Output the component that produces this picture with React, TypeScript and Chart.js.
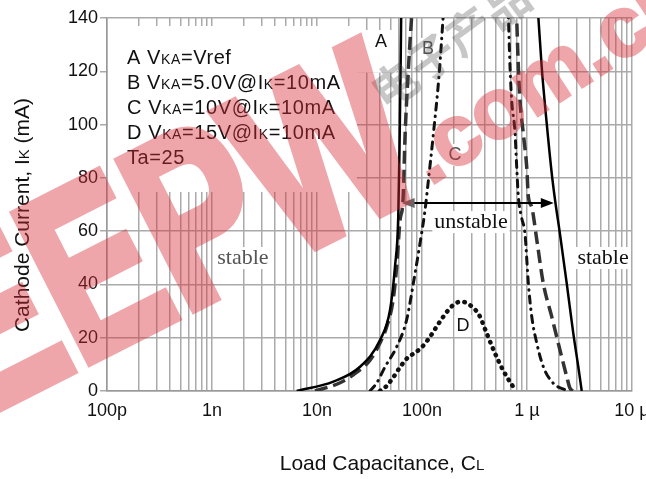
import { useEffect, useRef } from 'react';
import { Chart, registerables } from 'chart.js';

Chart.register(...registerables);

const SANS = '"Liberation Sans", Arial, sans-serif';
const SERIF = '"Liberation Serif", "Times New Roman", serif';
const CJK = '"Noto Sans CJK SC", sans-serif';

// ---- axes ----
const xMin = 1e-10;
const xMax = 1e-5;
const decadeValues = [1e-10, 1e-9, 1e-8, 1e-7, 1e-6, 1e-5];
const decadeLabels = ['100p', '1n', '10n', '100n', '1 µ', '10 µ'];
const minorMultipliers = [1, 2, 3, 4, 5, 6, 7, 8, 9];
const yMin = 0;
const yMax = 140;
const yStep = 20;

// ---- curve A (solid) ----
const aLeftCap = [6.4e-9, 1.43e-8, 2.57e-8, 3.98e-8, 4.96e-8, 5.53e-8, 5.94e-8, 6.1e-8, 6.25e-8, 6.35e-8];
const aLeftCur = [0, 3.5, 9.1, 19.1, 30.4, 46.7, 65.4, 90, 120, 145];
const aRightCap = [1.26e-6, 1.38e-6, 1.54e-6, 1.72e-6, 1.85e-6, 2.06e-6, 2.39e-6, 2.76e-6, 3.08e-6, 3.32e-6];
const aRightCur = [145, 121.7, 100.5, 81.7, 71.7, 59, 40.4, 21.6, 9.1, 0];

// ---- curve B (dashed) ----
const bLeftCap = [9.57e-9, 1.66e-8, 2.2e-8, 3.2e-8, 3.98e-8, 4.6e-8, 5.3e-8, 5.74e-8, 6.17e-8, 6.6e-8, 6.9e-8, 7.4e-8, 8.1e-8];
const bLeftCur = [0, 3.1, 6, 11.6, 18, 24, 34, 46.7, 64, 72, 96, 120, 145];
const bRightCap = [7.9e-7, 8.27e-7, 8.57e-7, 9.2e-7, 9.94e-7, 1.03e-6, 1.11e-6, 1.24e-6, 1.43e-6, 1.72e-6, 2.06e-6, 2.39e-6, 2.57e-6, 2.76e-6];
const bRightCur = [145, 121.7, 109, 97, 84, 73, 69, 56.7, 40.4, 27.9, 15.4, 5.4, 1, 0];

// ---- curve C (dash-dot) ----
const cLeftCap = [3.2e-8, 3.7e-8, 4.44e-8, 5.74e-8, 7.14e-8, 8.27e-8, 9.57e-8, 1.07e-7, 1.15e-7, 1.28e-7, 1.45e-7, 1.62e-7];
const cLeftCur = [0, 3, 9, 16.6, 26.7, 40.4, 55.4, 68, 79, 96, 118, 145];
const cRightCap = [6.6e-7, 6.89e-7, 7.15e-7, 7.69e-7, 7.98e-7, 8.27e-7, 8.9e-7, 9.57e-7, 1.03e-6, 1.11e-6, 1.24e-6, 1.43e-6, 1.78e-6, 2.2e-6, 2.57e-6];
const cRightCur = [145, 121.7, 109, 97, 84, 73, 65, 59, 40.4, 27.9, 17.9, 9.1, 2.9, 0.8, 0];

// ---- curve D (dotted) ----
const dCap = [3.98e-8, 4.5e-8, 5.3e-8, 6.2e-8, 7.3e-8, 8.7e-8, 1.0e-7, 1.2e-7, 1.45e-7, 1.75e-7, 2.1e-7, 2.4e-7, 2.85e-7, 3.5e-7, 4.1e-7, 4.8e-7, 5.9e-7, 7.7e-7];
const dCur = [0, 1.5, 5, 9, 12.5, 14.5, 16.5, 20.5, 25.5, 30, 33, 33.5, 32.3, 28.5, 22, 15.4, 7.9, 0.4];

// ---- texts ----
const legendLines = [
  'A V_KA_=Vref',
  'B V_KA_=5.0V@I_K_=10mA',
  'C V_KA_=10V@I_K_=10mA',
  'D V_KA_=15V@I_K_=10mA',
  'Ta=25',
];
const curveLabels = ['A', 'B', 'C', 'D'];
const xTitle = 'Load Capacitance, C_L_';
const yTitle = 'Cathode Current, I_K_ (mA)';
const unstableText = 'unstable';
const stableText = 'stable';
const watermarkMain = 'EEPW';
const watermarkSite = '.com.cn';
const watermarkCn = '电子产品世界';
const arrowCap = [6.4e-8, 1.8e-6];
const arrowCur = 70.6;

function pts(xs: number[], ys: number[]) {
  return xs.map((x, i) => ({ x, y: ys[i] }));
}

function drawRich(ctx: CanvasRenderingContext2D, str: string, x: number, y: number, size: number, align: string) {
  const parts = str.split('_');
  const fonts = parts.map((_, i) => `${i % 2 ? Math.round(size * 0.72) : size}px ${SANS}`);
  const widths = parts.map((p, i) => {
    ctx.font = fonts[i];
    return ctx.measureText(p).width;
  });
  const total = widths.reduce((a, b) => a + b, 0);
  let cx = align === 'center' ? x - total / 2 : x;
  ctx.textAlign = 'left';
  ctx.textBaseline = 'alphabetic';
  parts.forEach((p, i) => {
    ctx.font = fonts[i];
    ctx.fillText(p, cx, y);
    cx += widths[i];
  });
}

function label(ctx: CanvasRenderingContext2D, text: string, px: number, py: number, font: string, color: string, bg: boolean) {
  ctx.font = font;
  const w = ctx.measureText(text).width;
  if (bg) {
    ctx.fillStyle = '#fff';
    ctx.fillRect(px - w / 2 - 2, py - 11, w + 4, 22);
  }
  ctx.fillStyle = color;
  ctx.textAlign = 'center';
  ctx.textBaseline = 'middle';
  ctx.fillText(text, px, py);
}

const overlayPlugin = {
  id: 'overlay',
  beforeDatasetsDraw(chart: any) {
    const { ctx, chartArea: ca, scales } = chart;
    const xs = scales.x;
    const ys = scales.y;
    ctx.save();
    ctx.fillStyle = '#fff';
    const boxR = xs.getPixelForValue(2.4e-8);
    const boxB = ys.getPixelForValue(74.7);
    ctx.fillRect(ca.left + 1, ca.top + 8, boxR - ca.left - 1, boxB - ca.top - 8);
    const aBoxR = xs.getPixelForValue(5.85e-8);
    const aBoxB = ys.getPixelForValue(119.5);
    ctx.fillRect(boxR - 1, ca.top + 12, aBoxR - boxR, aBoxB - ca.top - 12);
    ctx.restore();
  },
  afterDatasetsDraw(chart: any) {
    const { ctx, scales } = chart;
    const xs = scales.x;
    const ys = scales.y;
    ctx.save();
    const lx = [4.07e-8, 1.14e-7, 2.06e-7, 2.46e-7];
    const ly = [131, 128.4, 88.6, 24.4];
    const lc = ['#111', '#555', '#555', '#111'];
    curveLabels.forEach((t, i) => {
      label(ctx, t, xs.getPixelForValue(lx[i]), ys.getPixelForValue(ly[i]), `18px ${SANS}`, lc[i], true);
    });
    label(ctx, unstableText, xs.getPixelForValue(2.93e-7), ys.getPixelForValue(63.4), `22px ${SERIF}`, '#111', true);
    label(ctx, stableText, xs.getPixelForValue(1.97e-9), ys.getPixelForValue(49.9), `22px ${SERIF}`, '#555', true);
    label(ctx, stableText, xs.getPixelForValue(5.3e-6), ys.getPixelForValue(49.9), `22px ${SERIF}`, '#111', true);
    const x1 = xs.getPixelForValue(arrowCap[0]);
    const x2 = xs.getPixelForValue(arrowCap[1]);
    const ay = ys.getPixelForValue(arrowCur);
    ctx.strokeStyle = '#000';
    ctx.lineWidth = 2;
    ctx.beginPath();
    ctx.moveTo(x1 + 8, ay);
    ctx.lineTo(x2 - 8, ay);
    ctx.stroke();
    ctx.fillStyle = '#666';
    ctx.beginPath();
    ctx.moveTo(x1, ay);
    ctx.lineTo(x1 + 13, ay - 5);
    ctx.lineTo(x1 + 13, ay + 5);
    ctx.closePath();
    ctx.fill();
    ctx.fillStyle = '#000';
    ctx.beginPath();
    ctx.moveTo(x2, ay);
    ctx.lineTo(x2 - 13, ay - 5);
    ctx.lineTo(x2 - 13, ay + 5);
    ctx.closePath();
    ctx.fill();
    ctx.fillStyle = '#111';
    (ctx as any).letterSpacing = '0.6px';
    legendLines.forEach((l, i) => {
      drawRich(ctx, l, 127, 64 + i * 25, 20, 'left');
    });
    (ctx as any).letterSpacing = '0px';
    drawRich(ctx, xTitle, 382, 470, 21, 'center');
    ctx.translate(29, 215);
    ctx.rotate(-Math.PI / 2);
    drawRich(ctx, yTitle, 0, 0, 21, 'center');
    ctx.restore();
  },
  afterDraw(chart: any) {
    const { ctx, width, height } = chart;
    // faint grey characters
    ctx.save();
    ctx.fillStyle = 'rgba(70,70,70,0.3)';
    ctx.translate(386, 112);
    ctx.rotate((-36 * Math.PI) / 180);
    ctx.font = `bold 46px ${CJK}`;
    ctx.textAlign = 'left';
    ctx.textBaseline = 'alphabetic';
    ctx.fillText(watermarkCn, 0, 0);
    ctx.restore();
    // red logo
    const off = document.createElement('canvas');
    off.width = width;
    off.height = height;
    const o = off.getContext('2d')!;
    o.fillStyle = 'rgb(215,45,55)';
    o.strokeStyle = 'rgb(215,45,55)';
    o.save();
    o.translate(-25, 420);
    o.rotate((-27 * Math.PI) / 180);
    o.scale(0.73, 1);
    o.font = `bold 240px ${SANS}`;
    o.textAlign = 'left';
    o.textBaseline = 'alphabetic';
    o.lineWidth = 10;
    o.fillText(watermarkMain, 0, 0);
    o.strokeText(watermarkMain, 0, 0);
    o.restore();
    o.save();
    o.translate(430, 186);
    o.rotate((-33 * Math.PI) / 180);
    o.font = `bold 85px ${SANS}`;
    o.textAlign = 'left';
    o.textBaseline = 'alphabetic';
    o.lineWidth = 3;
    o.fillText(watermarkSite, 0, 0);
    o.strokeText(watermarkSite, 0, 0);
    o.restore();
    ctx.save();
    ctx.setTransform(1, 0, 0, 1, 0, 0);
    ctx.globalAlpha = 0.42;
    ctx.drawImage(off, 0, 0, ctx.canvas.width, ctx.canvas.height);
    ctx.restore();
  },
};

export default function App() {
  const ref = useRef<HTMLCanvasElement>(null);
  useEffect(() => {
    if (!ref.current) return;
    const common = { pointRadius: 0, fill: false, cubicInterpolationMode: 'monotone' as const };
    const A = { ...common, borderColor: '#000', borderWidth: 2.5 };
    const B = { ...common, borderColor: '#333', borderWidth: 3.5, borderDash: [13, 6] };
    const C = { ...common, borderColor: '#111', borderWidth: 3, borderDash: [7, 6, 0.5, 6], borderCapStyle: 'round' as const };
    const D = { ...common, borderColor: '#111', borderWidth: 4.5, borderDash: [0.5, 6.5], borderCapStyle: 'round' as const };
    const chart = new Chart(ref.current, {
      type: 'line',
      data: {
        datasets: [
          { ...A, label: 'A', data: pts(aLeftCap, aLeftCur) },
          { ...A, label: 'A2', data: pts(aRightCap, aRightCur) },
          { ...B, label: 'B', data: pts(bLeftCap, bLeftCur) },
          { ...B, label: 'B2', data: pts(bRightCap, bRightCur) },
          { ...C, label: 'C', data: pts(cLeftCap, cLeftCur) },
          { ...C, label: 'C2', data: pts(cRightCap, cRightCur) },
          { ...D, label: 'D', data: pts(dCap, dCur) },
        ] as any,
      },
      options: {
        animation: false,
        responsive: true,
        maintainAspectRatio: false,
        layout: { padding: { left: 0, top: 18, right: 14, bottom: 0 } },
        plugins: { legend: { display: false }, tooltip: { enabled: false } },
        scales: {
          x: {
            type: 'logarithmic',
            min: xMin,
            max: xMax,
            afterBuildTicks: (scale: any) => {
              const t: any[] = [];
              decadeValues.slice(0, -1).forEach((d) => {
                minorMultipliers.forEach((m) => t.push({ value: m * d }));
              });
              t.push({ value: decadeValues[decadeValues.length - 1] });
              scale.ticks = t;
            },
            afterFit: (scale: any) => {
              scale.height = 88;
              scale.paddingLeft = 0;
              scale.paddingRight = 0;
            },
            ticks: {
              autoSkip: false,
              maxRotation: 0,
              padding: 9,
              color: '#111',
              font: { family: SANS, size: 18 },
              callback: (v: any) => {
                const i = decadeValues.findIndex((d) => Math.abs(Number(v) / d - 1) < 1e-6);
                return i >= 0 ? decadeLabels[i] : '';
              },
            },
            grid: { color: '#aaa', lineWidth: 1.5, drawTicks: false },
            border: { color: '#999', width: 1.5 },
          },
          y: {
            type: 'linear',
            min: yMin,
            max: yMax,
            afterFit: (scale: any) => {
              scale.width = 107;
              scale.paddingTop = 0;
              scale.paddingBottom = 0;
            },
            ticks: {
              stepSize: yStep,
              padding: 2,
              color: '#111',
              font: { family: SANS, size: 18 },
            },
            grid: { color: '#aaa', lineWidth: 1.5, tickLength: 7 },
            border: { color: '#999', width: 1.5 },
          },
        },
      } as any,
      plugins: [overlayPlugin],
    });
    return () => chart.destroy();
  }, []);
  return (
    <div style={{ position: 'absolute', left: 0, top: 0, width: 646, height: 479 }}>
      <canvas ref={ref} />
    </div>
  );
}
